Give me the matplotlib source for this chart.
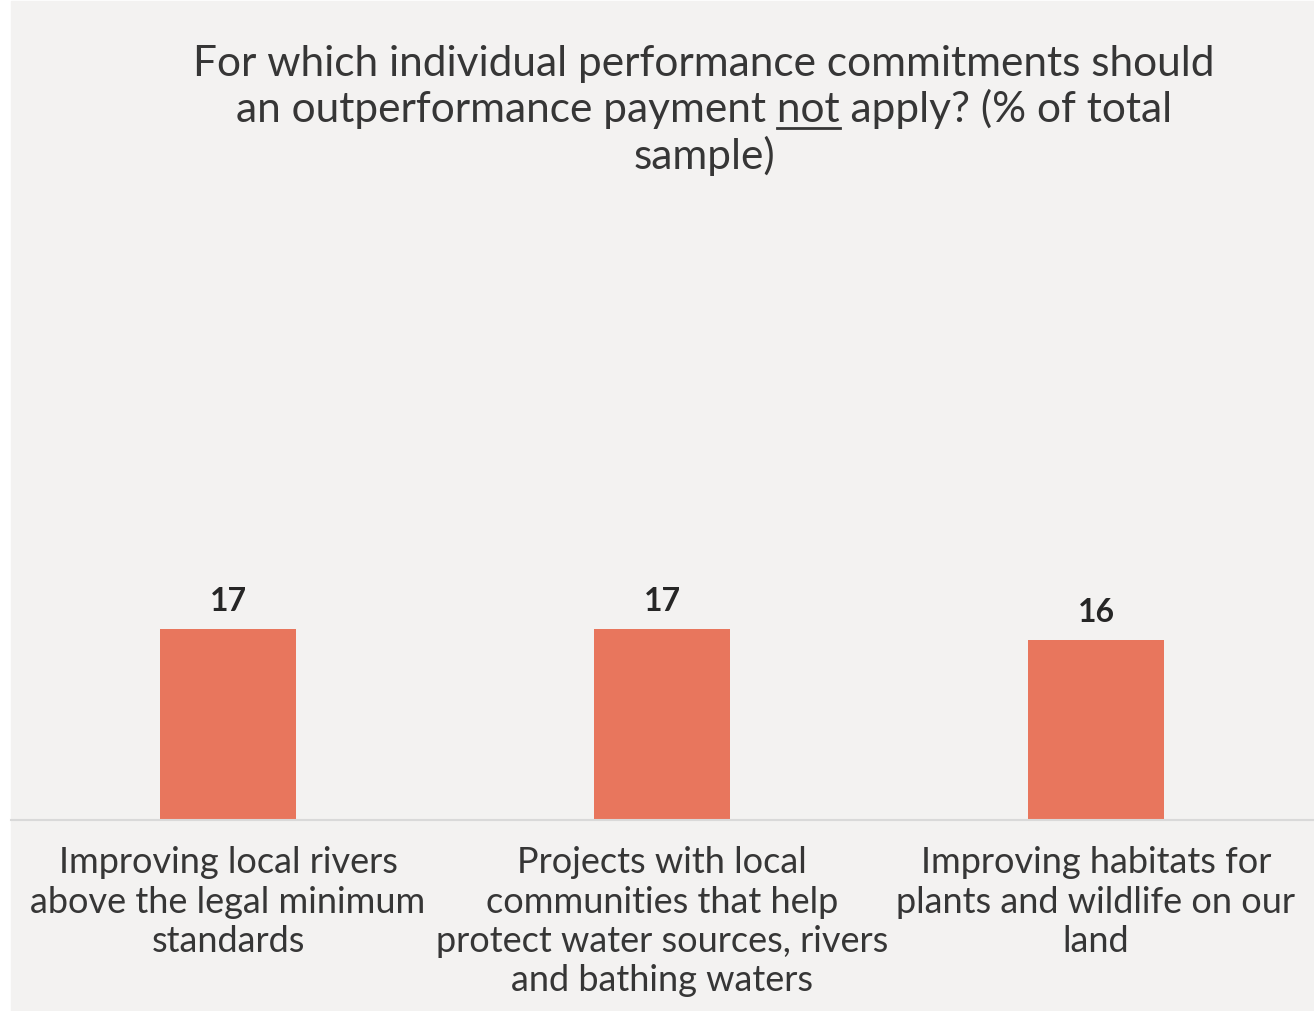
import matplotlib
matplotlib.use("Agg")
import matplotlib.pyplot as plt
from matplotlib.patches import Rectangle
from matplotlib.lines import Line2D

# Share of the total sample who say no outperformance payment should apply
categories = [
    "Improving local rivers\nabove the legal minimum\nstandards",
    "Projects with local\ncommunities that help\nprotect water sources, rivers\nand bathing waters",
    "Improving habitats for\nplants and wildlife on our\nland",
]
values = [17, 17, 16]

title_lines = [
    "For which individual performance commitments should",
    ("an outperformance payment ", "not", " apply? (% of total"),
    "sample)",
]

W, H = 1314, 1011
bar_color = "#E8765D"
text_color = "#363636"
font = "Lato"

fig = plt.figure(figsize=(W / 100, H / 100), dpi=100)
fig.patch.set_facecolor("white")
fig.patches.append(Rectangle((11 / W, 0), 1 - 11 / W, 1 - 1 / H,
                             transform=fig.transFigure, color="#F3F2F1", zorder=-5))

ax = fig.add_axes([11 / W, 191 / H, 1302 / W, 618 / H])
ax.set_facecolor("none")
x = range(len(values))
bars = ax.bar(x, values, width=0.313, color=bar_color, zorder=2)
ax.set_xlim(-0.5, 2.5)
ax.set_ylim(0, 55)
ax.set_yticks([])
for s in ["top", "left", "right"]:
    ax.spines[s].set_visible(False)
ax.spines["bottom"].set_color("#D9D9D9")
ax.spines["bottom"].set_linewidth(1.5)
ax.set_xticks(list(x))
ax.set_xticklabels(categories, fontsize=26, family=font, color=text_color,
                   linespacing=1.23)
ax.tick_params(axis="x", length=0, pad=19)

for b, v in zip(bars, values):
    ax.annotate(str(v), (b.get_x() + b.get_width() / 2, v), xytext=(0, 13),
                textcoords="offset points", ha="center", va="baseline",
                fontsize=23, fontweight="bold", family=font, color="#262626")

# title, with the word "not" underlined
cx = 704 / W
baselines = [76, 122, 169]
tsize = 30.5
renderer = fig.canvas.get_renderer()
for line, yb in zip(title_lines, baselines):
    y = 1 - yb / H
    if isinstance(line, str):
        fig.text(cx, y, line, ha="center", va="baseline", fontsize=tsize,
                 family=font, color=text_color)
        continue
    full = "".join(line)
    t = fig.text(cx, y, full, ha="center", va="baseline", fontsize=tsize,
                 family=font, color=text_color)
    bb = t.get_window_extent(renderer)
    pre = fig.text(0, 0, line[0], fontsize=tsize, family=font)
    mid = fig.text(0, 0, line[0] + line[1], fontsize=tsize, family=font)
    x0 = bb.x0 + pre.get_window_extent(renderer).width
    x1 = bb.x0 + mid.get_window_extent(renderer).width
    pre.remove()
    mid.remove()
    yu = y * H - 6
    fig.add_artist(Line2D([x0 / W, x1 / W], [yu / H, yu / H], color=text_color,
                          lw=2, transform=fig.transFigure))

fig.savefig("out.png", dpi=100)
